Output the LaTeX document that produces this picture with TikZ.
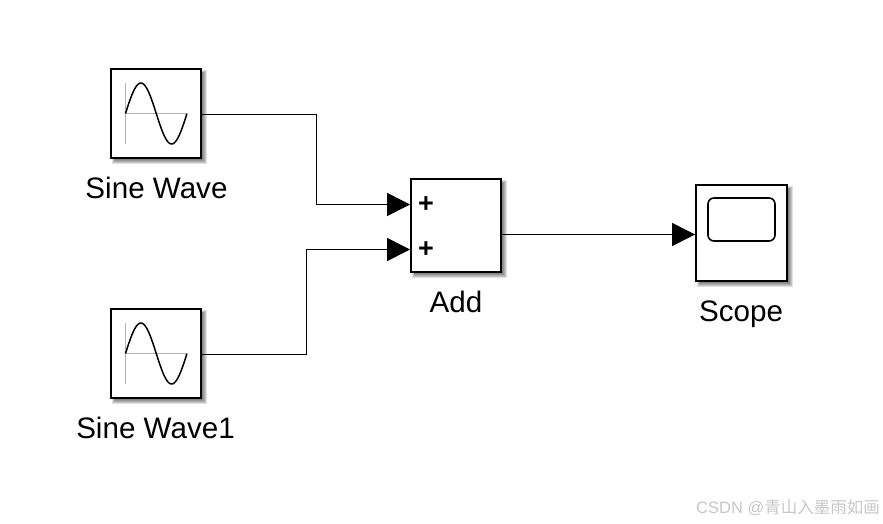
\documentclass[tikz,border=0pt]{standalone}
\usepackage{fontspec}
\setmainfont{Liberation Sans}
\newfontfamily\cjkwm{Noto Sans CJK SC}
\usetikzlibrary{arrows.meta,calc}
\tikzset{
  x=1pt,y=-1pt,
  block/.style={draw=black,line width=1.8pt,fill=white,inner sep=0pt,rectangle},
  blocklabel/.style={anchor=base,inner sep=0pt,font=\fontsize{29.6}{34}\selectfont,text=black},
  wire/.style={draw=black,line width=1pt,-{Triangle[length=23pt,width=23pt]},shorten >=0pt},
  axisline/.style={draw=black!30,line width=1.5pt},
  sinecurve/.style={draw=black,line width=1.5pt,line join=round},
  signmark/.style={anchor=center,inner sep=0pt,font=\bfseries\fontsize{27}{27}\selectfont},
  shade1/.style={fill=black,fill opacity=0.12,draw=none},
}
\newcommand{\softshadow}[4]{%
  \fill[shade1] (#1+1,#2+1) rectangle (#3+6,#4+6);
  \fill[shade1] (#1+2,#2+2) rectangle (#3+5,#4+5);
  \fill[shade1] (#1+3,#2+3) rectangle (#3+4,#4+4);
  \fill[shade1] (#1+3,#2+3) rectangle (#3+3,#4+3);
  \fill[shade1] (#1+3,#2+3) rectangle (#3+2,#4+2);
}
\newcommand{\sineglyph}[2]{%
  \draw[axisline] (#1,#2-30.5) -- (#1,#2+30.5);
  \draw[axisline] (#1,#2) -- (#1+61.5,#2);
  \draw[sinecurve] plot[domain=0:1,samples=60,smooth] ({#1+61.5*\x},{#2-30.5*sin(360*\x)});
}
\begin{document}
\begin{tikzpicture}
\useasboundingbox[fill=white] (0,0) rectangle (883,523);
% shadows
\softshadow{111}{69}{201}{158}
\softshadow{111}{309}{201}{398}
\softshadow{411}{179}{501}{272}
\softshadow{696}{185}{787}{281}
% blocks
\node[block,minimum width=90pt,minimum height=89pt] (sw1) at (156,113.5) {};
\node[block,minimum width=90pt,minimum height=89pt] (sw2) at (156,353.5) {};
\node[block,minimum width=90pt,minimum height=93pt] (add) at (456,225.5) {};
\node[block,minimum width=91pt,minimum height=96pt] (scope) at (741.5,233) {};
% glyphs
\sineglyph{125.5}{113.5}
\sineglyph{125.5}{353.5}
\draw[draw=black,line width=1.6pt,rounded corners=6pt] (708,198) rectangle (775,241);
\node[signmark] (p1) at (426,205) {+};
\node[signmark] (p2) at (426,250) {+};
% labels
\node[blocklabel] (l1) at (156.5,198) {Sine Wave};
\node[blocklabel] (l2) at (155.5,438) {Sine Wave1};
\node[blocklabel] (l3) at (456,312) {Add};
\node[blocklabel] (l4) at (741,321) {Scope};
% connectors
\coordinate (a1) at ($(add.north west)+(0,26.4)$);
\coordinate (a2) at ($(add.north west)+(0,71.4)$);
\coordinate (s1) at (316,114.5);
\coordinate (s2) at (306.5,354.5);
\draw[wire] (sw1.east |- s1) -- (s1) |- (a1);
\draw[wire] (sw2.east |- s2) -- (s2) |- (a2);
\draw[wire] (add.east |- 0,234.5) -- (scope.west |- 0,234.5);
% watermark
\node[anchor=east,inner sep=0pt,text=black!22,font=\fontsize{16.5}{18}\selectfont] (wm) at (880,508) {CSDN @{\cjkwm 青山入墨雨如画}};
\end{tikzpicture}
\end{document}
